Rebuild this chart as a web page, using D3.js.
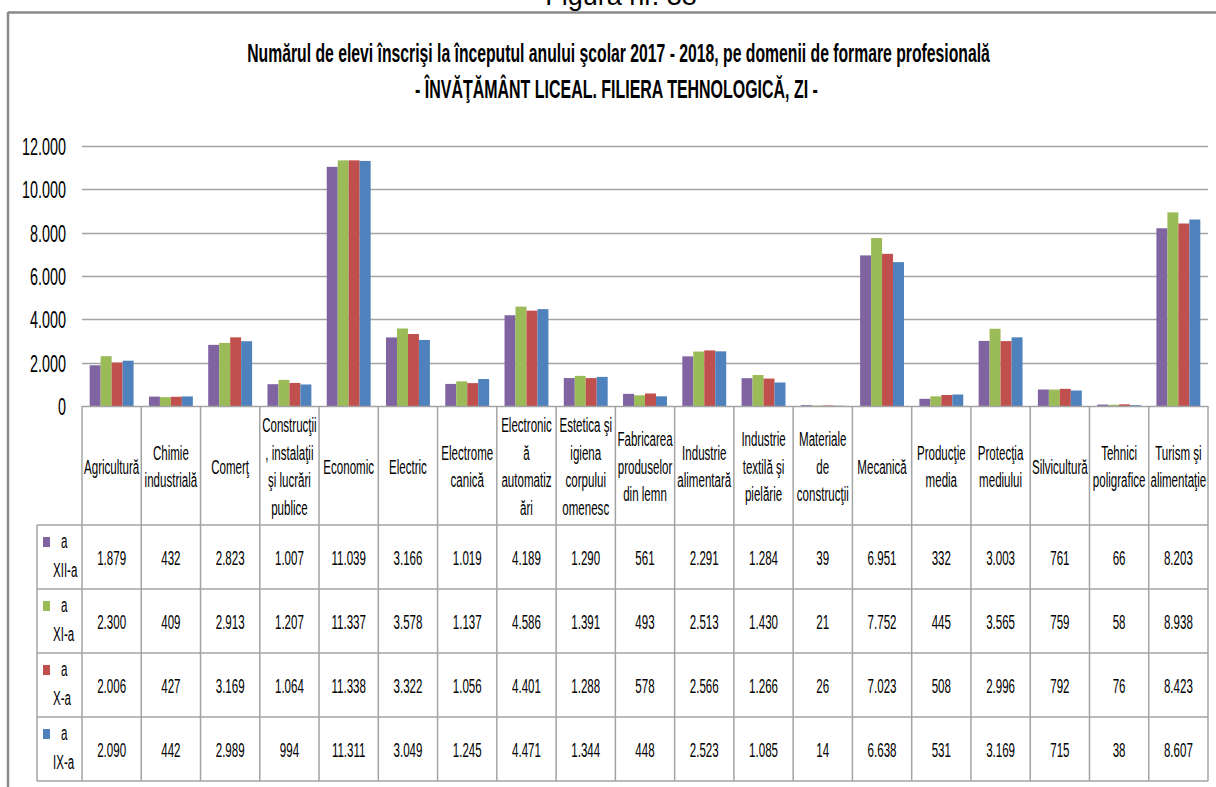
<!DOCTYPE html>
<html>
<head>
<meta charset="utf-8">
<script src="https://cdn.jsdelivr.net/npm/d3@7"></script>
<style>
  html, body { margin: 0; padding: 0; background: #ffffff; }
  svg { display: block; }
  text { font-family: "Liberation Sans", Arial, sans-serif; fill: #000; }
</style>
</head>
<body>
<svg id="chart" width="1216" height="787"></svg>
<script>
// ---------------- DATA ----------------
const categories = [
  "Agricultură", "Chimie industrială", "Comerţ",
  "Construcţii, instalaţii şi lucrări publice", "Economic", "Electric",
  "Electromecanică", "Electronică automatizări",
  "Estetica şi igiena corpului omenesc", "Fabricarea produselor din lemn",
  "Industrie alimentară", "Industrie textilă şi pielărie",
  "Materiale de construcţii", "Mecanică", "Producţie media",
  "Protecţia mediului", "Silvicultură", "Tehnici poligrafice",
  "Turism şi alimentaţie"
];
// category labels as wrapped in the data table header
const categoryLines = [
  ["Agricultură"], ["Chimie", "industrială"], ["Comerţ"],
  ["Construcţii", ", instalaţii", "şi lucrări", "publice"], ["Economic"], ["Electric"],
  ["Electrome", "canică"], ["Electronic", "ă", "automatiz", "ări"],
  ["Estetica şi", "igiena", "corpului", "omenesc"], ["Fabricarea", "produselor", "din lemn"],
  ["Industrie", "alimentară"], ["Industrie", "textilă şi", "pielărie"],
  ["Materiale", "de", "construcţii"], ["Mecanică"], ["Producţie", "media"],
  ["Protecţia", "mediului"], ["Silvicultură"], ["Tehnici", "poligrafice"],
  ["Turism şi", "alimentaţie"]
];
const seriesNames = ["a XII-a", "a XI-a", "a X-a", "a IX-a"];
const seriesLabelLines = [["a", "XII-a"], ["a", "XI-a"], ["a", "X-a"], ["a", "IX-a"]];
const seriesColors = ["#8064A2", "#9BBB59", "#C0504D", "#4F81BD"];
const valuesXII = [1879, 432, 2823, 1007, 11039, 3166, 1019, 4189, 1290, 561, 2291, 1284, 39, 6951, 332, 3003, 761, 66, 8203];
const valuesXI  = [2300, 409, 2913, 1207, 11337, 3578, 1137, 4586, 1391, 493, 2513, 1430, 21, 7752, 445, 3565, 759, 58, 8938];
const valuesX   = [2006, 427, 3169, 1064, 11338, 3322, 1056, 4401, 1288, 578, 2566, 1266, 26, 7023, 508, 2996, 792, 76, 8423];
const valuesIX  = [2090, 442, 2989, 994, 11311, 3049, 1245, 4471, 1344, 448, 2523, 1085, 14, 6638, 531, 3169, 715, 38, 8607];
const yTicks = [0, 2000, 4000, 6000, 8000, 10000, 12000];
const captionText = "Figura nr. 38";
const titleLines = [
  "Numărul de elevi înscrişi la începutul anului şcolar 2017 - 2018, pe domenii de formare profesională",
  "- ÎNVĂŢĂMÂNT LICEAL. FILIERA TEHNOLOGICĂ, ZI -"
];

const seriesValues = [valuesXII, valuesXI, valuesX, valuesIX];

// ---------------- LAYOUT ----------------
const W = 1216, H = 787;
const plotL = 82, plotR = 1208, plotT = 146, zeroY = 406;
const headerBottom = 525, rowH = 64;
const labelColL = 37;
const gridColor = "#a3a3a3";
const FS = 21;   // table font size
const K = 0.55;  // horizontal squeeze of the narrow table font

const svg = d3.select("#chart");

const loc = d3.formatLocale({ decimal: ",", thousands: ".", grouping: [3], currency: ["", ""] });
const fmt = loc.format(",d");

// place a horizontally condensed text at (x, y)
function ctext(parent, x, y, str, size, k, anchor, weight) {
  return parent.append("text")
    .attr("x", 0).attr("y", 0)
    .attr("transform", `translate(${x},${y}) scale(${k},1)`)
    .attr("text-anchor", anchor || "middle")
    .style("font-size", size + "px")
    .style("font-weight", weight || "normal")
    .text(str);
}

// scales
const x0 = d3.scaleBand().domain(categories).range([plotL, plotR]).paddingInner(0).paddingOuter(0);
const x1 = d3.scaleBand().domain(seriesNames).range([0, x0.bandwidth()]).paddingInner(0).paddingOuter(0.7);
const y = d3.scaleLinear().domain([0, 12000]).range([zeroY, plotT]);

// caption (cut off at top, as in the source page)
svg.append("text")
  .attr("x", 621).attr("y", 5)
  .attr("text-anchor", "middle")
  .style("font-size", "27px")
  .text(captionText);

// frame
svg.append("line").attr("x1", 8).attr("x2", W).attr("y1", 12.5).attr("y2", 12.5)
  .attr("stroke", "#8a8a8a").attr("stroke-width", 2.5);
svg.append("line").attr("x1", 8).attr("x2", 8).attr("y1", 12).attr("y2", H)
  .attr("stroke", "#8a8a8a").attr("stroke-width", 2.5);

// title
const titleWidths = [743, 403];
const titleCenters = [618.5, 616.5];
const titleBase = [62, 98];
titleLines.forEach((t, i) => {
  const el = ctext(svg, titleCenters[i], titleBase[i], t, 26, 1, "middle", "bold");
  const w = el.node().getComputedTextLength();
  el.attr("transform", `translate(${titleCenters[i]},${titleBase[i]}) scale(${titleWidths[i] / w},1)`);
});

// gridlines
svg.append("g").selectAll("line")
  .data(yTicks.filter(d => d > 0))
  .join("line")
  .attr("x1", plotL).attr("x2", plotR)
  .attr("y1", d => Math.round(y(d)) + 0.5).attr("y2", d => Math.round(y(d)) + 0.5)
  .attr("stroke", gridColor).attr("stroke-width", 1.5);

// y axis labels
const yAxis = d3.axisLeft(y).tickValues(yTicks).tickFormat(fmt).tickSize(0).tickPadding(0);
const yg = svg.append("g").attr("transform", `translate(${66},0)`).call(yAxis);
yg.select(".domain").remove();
yg.selectAll("text")
  .attr("dy", null).attr("x", 0).attr("y", 0)
  .attr("transform", "translate(0,8.5) scale(0.6,1)")
  .style("font-size", "24px").style("font-family", "\"Liberation Sans\", Arial, sans-serif")
  .attr("fill", "#000");

// bars
const barData = [];
categories.forEach((c, ci) => {
  seriesNames.forEach((s, si) => {
    barData.push({ cat: c, ser: s, si: si, value: seriesValues[si][ci] });
  });
});
svg.append("g").selectAll("rect")
  .data(barData)
  .join("rect")
  .attr("x", d => x0(d.cat) + x1(d.ser))
  .attr("y", d => y(d.value))
  .attr("width", x1.bandwidth())
  .attr("height", d => zeroY - y(d.value))
  .attr("fill", d => seriesColors[d.si]);

// zero axis line / table top
svg.append("line").attr("x1", plotL).attr("x2", plotR).attr("y1", zeroY + 0.5).attr("y2", zeroY + 0.5)
  .attr("stroke", gridColor).attr("stroke-width", 1.5);

// data table grid
const tableBottom = headerBottom + rowH * seriesNames.length;
const tg = svg.append("g");
const bounds = categories.map(c => x0(c)).concat([plotR]);
tg.selectAll("line.v")
  .data(bounds)
  .join("line").attr("class", "v")
  .attr("x1", d => d).attr("x2", d => d)
  .attr("y1", zeroY).attr("y2", tableBottom)
  .attr("stroke", gridColor).attr("stroke-width", 1.5);
tg.append("line").attr("x1", labelColL).attr("x2", labelColL)
  .attr("y1", headerBottom).attr("y2", tableBottom)
  .attr("stroke", gridColor).attr("stroke-width", 1.5);
tg.selectAll("line.h")
  .data(d3.range(seriesNames.length + 1))
  .join("line").attr("class", "h")
  .attr("x1", labelColL).attr("x2", plotR)
  .attr("y1", d => headerBottom + d * rowH).attr("y2", d => headerBottom + d * rowH)
  .attr("stroke", gridColor).attr("stroke-width", 1.5);

// header labels
const headerCenter = (zeroY + headerBottom) / 2 + 0.5;
const lineH = 27.5;
const hg = svg.append("g");
categories.forEach((c, ci) => {
  const lines = categoryLines[ci];
  const cx = x0(c) + x0.bandwidth() / 2;
  const first = headerCenter - (lines.length - 1) * lineH / 2;
  lines.forEach((l, i) => ctext(hg, cx, first + i * lineH + 7.5, l, FS, K));
});

// values + legend keys
const vg = svg.append("g");
seriesNames.forEach((s, si) => {
  const top = headerBottom + si * rowH;
  const rowY = top + rowH / 2;
  categories.forEach((c, ci) => {
    ctext(vg, x0(c) + x0.bandwidth() / 2, rowY + 8, fmt(seriesValues[si][ci]), FS, K);
  });
  vg.append("rect")
    .attr("x", 43).attr("y", top + 12).attr("width", 7).attr("height", 10)
    .attr("fill", seriesColors[si]);
  seriesLabelLines[si].forEach((l, i) => {
    ctext(vg, i === 0 ? 61 : 53, top + 23 + i * 29, l, FS, K, "start");
  });
});
</script>
</body>
</html>
